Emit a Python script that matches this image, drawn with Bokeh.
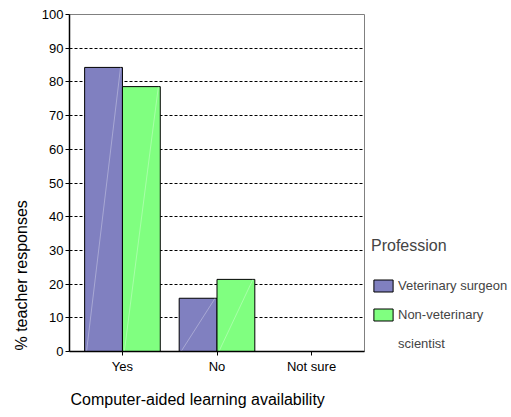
import numpy as np
from bokeh.plotting import figure
from bokeh.models import (FixedTicker, Legend, LegendItem, ColumnDataSource, Title)
from bokeh.embed import file_html
from bokeh.resources import INLINE
from bokeh.transform import dodge

categories = ["Yes", "No", "Not sure"]
vet_surgeon = [84.3, 15.8, 0.0]
non_vet = [78.6, 21.4, 0.0]
legend_labels = ["Veterinary surgeon", "Non-veterinary", "scientist"]
y_ticks = [0, 10, 20, 30, 40, 50, 60, 70, 80, 90, 100]

FONT = "Liberation Sans"
PURPLE = "#8080C0"
GREEN = "#80FF80"

xpos = list(range(len(categories)))
src = ColumnDataSource(dict(x=xpos, vet=vet_surgeon, non=non_vet,
                            zero=[0] * len(categories)))

p = figure(frame_width=295, frame_height=337, output_backend="svg",
           toolbar_location=None,
           x_range=(-0.56, len(categories) - 1 + 0.56), y_range=(0, 100),
           min_border_left=69, min_border_top=14, min_border_right=146,
           min_border_bottom=65)

r1 = p.vbar(x=dodge("x", -0.2, range=p.x_range), top="vet", width=0.4, source=src,
            fill_color=PURPLE, line_color="black", line_width=1)
r2 = p.vbar(x=dodge("x", 0.2, range=p.x_range), top="non", width=0.4, source=src,
            fill_color=GREEN, line_color="black", line_width=1)
r3 = p.vbar(x=[], top=[], width=0.4, fill_alpha=0, line_alpha=0)
p.segment(x0=dodge("x", -0.38, range=p.x_range), y0="zero",
          x1=dodge("x", -0.02, range=p.x_range), y1="vet", source=src,
          line_color="white", line_alpha=0.45, line_width=0.7)
p.segment(x0=dodge("x", 0.02, range=p.x_range), y0="zero",
          x1=dodge("x", 0.38, range=p.x_range), y1="non", source=src,
          line_color="white", line_alpha=0.45, line_width=0.7)

p.xgrid.visible = False
p.ygrid.ticker = FixedTicker(ticks=y_ticks)
p.ygrid.grid_line_color = "black"
p.ygrid.grid_line_dash = "3 2"
p.ygrid.grid_line_width = 1

p.outline_line_color = "#808080"
p.outline_line_width = 1

p.yaxis.ticker = FixedTicker(ticks=y_ticks)
p.yaxis.major_tick_out = 4
p.yaxis.major_tick_in = 0
p.yaxis.minor_tick_line_color = None
p.yaxis.axis_line_width = 1.5
p.yaxis.axis_line_color = "black"
p.yaxis.major_label_text_font = FONT
p.yaxis.major_label_text_font_size = "13px"
p.yaxis.major_label_text_color = "black"
p.yaxis.major_label_standoff = 2

p.xaxis.ticker = FixedTicker(ticks=xpos)
p.xaxis.major_label_overrides = {i: c for i, c in enumerate(categories)}
p.xaxis.major_tick_out = 4
p.xaxis.major_tick_in = 0
p.xaxis.minor_tick_line_color = None
p.xaxis.axis_line_width = 1.5
p.xaxis.axis_line_color = "black"
p.xaxis.major_label_text_font = FONT
p.xaxis.major_label_text_font_size = "13px"
p.xaxis.major_label_text_color = "black"
p.xaxis.major_label_standoff = 3

p.add_layout(Title(text="Computer-aided learning availability", align="left",
                   offset=1, standoff=25, text_font=FONT, text_font_size="16px",
                   text_font_style="normal", text_color="black"), "below")
p.add_layout(Title(text="% teacher responses", align="left", offset=1,
                   standoff=17, text_font=FONT, text_font_size="16px",
                   text_font_style="normal", text_color="black"), "left")

legend = Legend(items=[LegendItem(label=legend_labels[0], renderers=[r1]),
                       LegendItem(label=legend_labels[1], renderers=[r2]),
                       LegendItem(label=legend_labels[2], renderers=[r3])],
                location=(7, 0), title="Profession",
                title_text_font=FONT, title_text_font_size="16px",
                title_text_font_style="normal", title_standoff=23,
                label_text_font=FONT, label_text_font_size="13px",
                glyph_width=24, glyph_height=15, label_height=15,
                label_standoff=3, spacing=14, padding=0, margin=0,
                border_line_alpha=0, background_fill_alpha=0)
p.add_layout(legend, "right")

open("out.html", "w").write(file_html(p, INLINE))
